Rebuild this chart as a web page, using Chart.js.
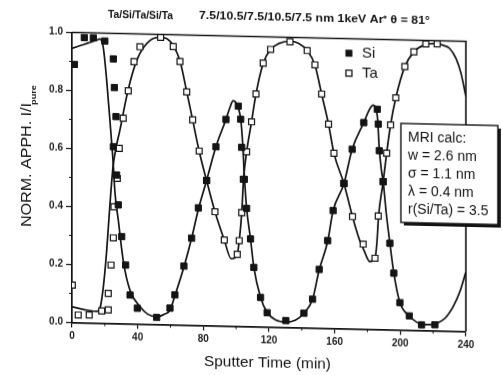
<!DOCTYPE html>
<html><head><meta charset="utf-8">
<script src="https://cdn.jsdelivr.net/npm/chart.js@4"></script>
<style>
html,body{margin:0;padding:0;background:#fff;overflow:hidden}
#wrap{width:502px;height:375px;transform:skewY(1.3deg);transform-origin:251px 187.5px}
canvas{display:block}
</style></head><body>
<div id="wrap"><canvas id="c" width="502" height="375"></canvas></div>
<script>
// ---- data (sputter time in min, normalized APPH intensity) ----
const siTime  = [1.5,7.5,13,20,25.2,25.8,26.8,25.2,27.2,28.2,30.3,32.7,35.4,39.8,51.6,59.7,62.7,68.2,72.9,77,82,87.7,93.8,101.3,102.8,103.4,105,106.4,108.8,110.8,114.9,118.9,130.3,141.3,146.6,150.6,155.8,159.1,165.7,170.7,177.8,186,186.6,187.2,189.6,193.7,196.1,199.8,205.5,213,221.1];
const siValue = [0.89,0.983,0.983,0.973,0.912,0.813,0.713,0.609,0.512,0.409,0.30,0.202,0.099,0.054,0.024,0.057,0.103,0.203,0.30,0.405,0.50,0.617,0.712,0.759,0.714,0.617,0.507,0.407,0.302,0.204,0.101,0.049,0.023,0.05,0.099,0.202,0.302,0.406,0.501,0.619,0.712,0.759,0.708,0.616,0.51,0.298,0.195,0.094,0.049,0.019,0.02];
const taTime  = [0.2,3.8,10.5,18.1,22.1,22.1,23.8,25.2,25.6,27.6,28.8,31.2,34.3,37.8,41.4,54,61.7,65.8,69.9,73.5,77.5,82,87.1,92.8,100.7,101.9,103.4,104.4,106.4,109.4,112.1,116.5,121,132.8,143.3,148,152.1,156.3,159.6,165.7,170.9,177.4,184.6,186.6,189.6,191.7,194.1,197.3,202.8,208.3,215.6,222.5];
const taValue = [0.129,0.026,0.027,0.042,0.046,0.103,0.201,0.295,0.402,0.50,0.604,0.708,0.803,0.904,0.956,0.99,0.959,0.908,0.804,0.708,0.601,0.50,0.393,0.296,0.248,0.295,0.392,0.507,0.602,0.706,0.802,0.909,0.957,0.985,0.956,0.907,0.807,0.704,0.604,0.50,0.387,0.293,0.245,0.391,0.51,0.608,0.706,0.80,0.908,0.96,0.988,0.989];
// MRI calculation curves
const siFitTime  = [0,5,10,15,17,19,21.1,23.1,25.1,26.2,28.2,31.2,35.3,41.4,46,51.6,56,59.7,62.7,68.2,72.9,77,82,87.7,93.8,96,98.2,100,101.5,102.8,104,105,106.4,108.8,110.8,114.9,118.9,124,130.3,136,141.3,146.6,150.6,155.8,159.1,165.7,170.7,177.8,181,183.5,185,186.2,187.2,188.5,189.6,191.5,193.7,196.1,199.8,205.5,210,215,218,222,227.2,232.2,236.3,240];
const siFitValue = [0.945,0.955,0.965,0.975,0.98,0.953,0.84,0.70,0.552,0.45,0.357,0.218,0.116,0.06,0.035,0.026,0.035,0.05,0.1,0.2,0.3,0.4,0.5,0.617,0.712,0.75,0.777,0.77,0.75,0.714,0.63,0.52,0.407,0.3,0.204,0.101,0.05,0.025,0.018,0.025,0.05,0.099,0.2,0.3,0.406,0.5,0.619,0.712,0.755,0.773,0.765,0.725,0.625,0.55,0.51,0.4,0.298,0.195,0.094,0.049,0.028,0.02,0.02,0.025,0.043,0.084,0.136,0.205];
const taFitTime  = [0,5,10,15,17,19,21,23,25,27,29.2,33.3,37.3,41.4,47.5,53.6,58,62,65.8,69.9,73.5,77.5,82,87.1,92.8,97,99,100.8,102,103.4,104.5,106.4,109.4,112.1,116.5,121,126,132.8,138,143.3,148,152.1,156.3,159.6,165.7,170.9,175,178,181.5,184.6,185.8,186.8,189.6,191.7,194.1,197.3,202.8,208.3,215,222,226,230,234,237,240];
const taFitValue = [0.054,0.048,0.043,0.04,0.05,0.12,0.24,0.40,0.54,0.61,0.667,0.783,0.872,0.933,0.978,0.99,0.985,0.96,0.91,0.805,0.708,0.6,0.5,0.393,0.296,0.232,0.235,0.25,0.3,0.39,0.505,0.602,0.706,0.802,0.909,0.957,0.978,0.987,0.98,0.956,0.907,0.807,0.704,0.604,0.5,0.387,0.31,0.27,0.233,0.245,0.3,0.39,0.51,0.608,0.706,0.8,0.908,0.96,0.985,0.99,0.985,0.975,0.94,0.89,0.81];
// ticks
const xTicks = [0,40,80,120,160,200,240];
const yTicks = [0,0.2,0.4,0.6,0.8,1.0];
const xMinor = [20,60,100,140,180,220];
const yMinor = [0.1,0.3,0.5,0.7,0.9];
// texts
const titleLeft = 'Ta/Si/Ta/Si/Ta';
const titleRight = '7.5/10.5/7.5/10.5/7.5 nm 1keV Ar\u207A \u03B8 = 81\u00B0';
const xTitle = 'Sputter Time (min)';
const yTitle = 'NORM. APPH. I/I';
const yTitleSub = 'pure';
const boxLines = ['MRI calc:', 'w = 2.6 nm', '\u03C3 = 1.1 nm', '\u03BB = 0.4 nm', 'r(Si/Ta) = 3.5'];

const INK = '#141414';
const FONT = "'Liberation Sans', Arial, sans-serif";
const pts = (xs, ys) => xs.map((x, i) => ({x, y: ys[i]}));

function fitText(ctx, str, x, y, w) {
  const m = ctx.measureText(str).width;
  ctx.save();
  ctx.translate(x, y);
  ctx.scale(w / m, 1);
  ctx.fillText(str, 0, 0);
  ctx.restore();
}

const decor = {
  id: 'decor',
  afterDraw(chart) {
    const {ctx, chartArea: a, scales: {x, y}} = chart;
    ctx.save();
    ctx.strokeStyle = INK; ctx.fillStyle = INK;
    // frame top & right
    ctx.lineWidth = 1.6;
    ctx.beginPath(); ctx.moveTo(a.left, a.top); ctx.lineTo(a.right, a.top); ctx.lineTo(a.right, a.bottom); ctx.stroke();
    // minor ticks
    ctx.lineWidth = 1;
    xMinor.forEach(v => { const p = x.getPixelForValue(v); ctx.beginPath(); ctx.moveTo(p, a.bottom); ctx.lineTo(p, a.bottom + 3); ctx.stroke(); });
    yMinor.forEach(v => { const p = y.getPixelForValue(v); ctx.beginPath(); ctx.moveTo(a.left, p); ctx.lineTo(a.left - 3, p); ctx.stroke(); });
    // title
    ctx.textBaseline = 'middle'; ctx.textAlign = 'left';
    ctx.font = 'bold 10px ' + FONT;
    fitText(ctx, titleLeft, 108, 18, 65);
    fitText(ctx, titleRight, 199, 17, 231);
    // x title
    ctx.font = '15px ' + FONT;
    fitText(ctx, xTitle, 204, 363, 127);
    // y title
    ctx.save();
    ctx.translate(31, 232); ctx.rotate(-Math.PI / 2);
    ctx.textBaseline = 'alphabetic';
    ctx.font = '14px ' + FONT;
    fitText(ctx, yTitle, 0, 0, 124);
    ctx.font = 'bold 7px ' + FONT;
    fitText(ctx, yTitleSub, 122, 5, 20);
    ctx.restore();
    // legend
    ctx.fillRect(345.5, 47.5, 7, 7);
    ctx.fillStyle = '#fff'; ctx.fillRect(346, 68, 6, 6);
    ctx.lineWidth = 1.3; ctx.strokeRect(346, 68, 6, 6);
    ctx.fillStyle = INK;
    ctx.font = '15px ' + FONT; ctx.textBaseline = 'middle';
    ctx.fillText('Si', 362, 51);
    ctx.fillText('Ta', 362, 71);
    // MRI box
    ctx.fillStyle = INK;
    ctx.fillRect(404, 123, 97, 99);
    ctx.fillStyle = '#fff';
    ctx.fillRect(401, 120, 97, 99);
    ctx.lineWidth = 1.4; ctx.strokeRect(401, 120, 97, 99);
    ctx.fillStyle = INK;
    ctx.font = '14px ' + FONT;
    boxLines.forEach((s, i) => ctx.fillText(s, 408, 134 + 18 * i));
    ctx.restore();
  }
};

const tickFont = {family: FONT, size: 10, weight: 'bold'};
new Chart(document.getElementById('c'), {
  type: 'scatter',
  data: {
    datasets: [
      {label: 'Si', data: pts(siTime, siValue), pointStyle: 'rect', pointRadius: 4.4, backgroundColor: INK, borderColor: INK, borderWidth: 1, order: 0},
      {label: 'Ta', data: pts(taTime, taValue), pointStyle: 'rect', pointRadius: 4.2, backgroundColor: '#fff', borderColor: INK, borderWidth: 1.2, order: 0},
      {label: 'Si calc', data: pts(siFitTime, siFitValue), showLine: true, pointRadius: 0, borderColor: INK, borderWidth: 1.7, cubicInterpolationMode: 'monotone', order: 1},
      {label: 'Ta calc', data: pts(taFitTime, taFitValue), showLine: true, pointRadius: 0, borderColor: INK, borderWidth: 1.7, cubicInterpolationMode: 'monotone', order: 1}
    ]
  },
  options: {
    responsive: false, animation: false, devicePixelRatio: 1,
    layout: {padding: {top: 36.5, right: 36, bottom: 0, left: 0}},
    plugins: {legend: {display: false}, tooltip: {enabled: false}, title: {display: false}},
    scales: {
      x: {
        type: 'linear', min: 0, max: 240,
        afterFit: s => { s.height = 48.5; },
        afterBuildTicks: s => { s.ticks = xTicks.map(v => ({value: v})); },
        ticks: {font: tickFont, color: '#222', padding: 3, maxRotation: 0, autoSkip: false},
        grid: {drawOnChartArea: false, drawTicks: true, tickLength: 5, color: INK, lineWidth: 1.2},
        border: {display: true, color: INK, width: 1.7}
      },
      y: {
        type: 'linear', min: 0, max: 1,
        afterFit: s => { s.width = 72; },
        afterBuildTicks: s => { s.ticks = yTicks.map(v => ({value: v})); },
        ticks: {font: tickFont, color: '#222', padding: 3, callback: v => v.toFixed(1), autoSkip: false},
        grid: {drawOnChartArea: false, drawTicks: true, tickLength: 6, color: INK, lineWidth: 1.2},
        border: {display: true, color: INK, width: 1.7}
      }
    }
  },
  plugins: [decor]
});
</script>
</body></html>
